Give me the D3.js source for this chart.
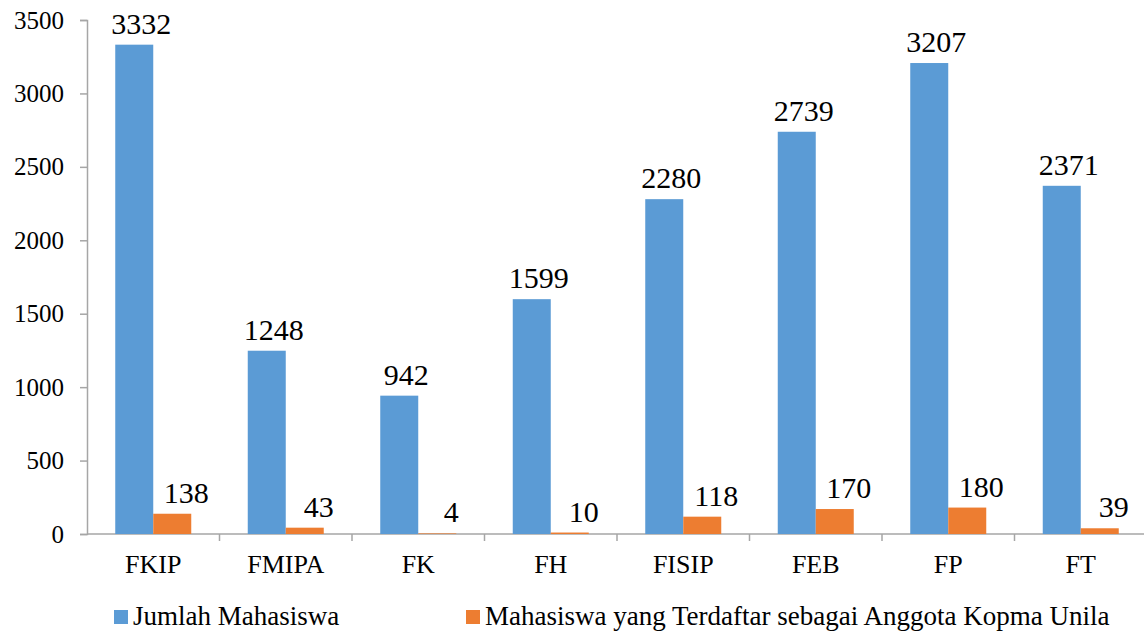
<!DOCTYPE html>
<html>
<head>
<meta charset="utf-8">
<script src="https://cdn.jsdelivr.net/npm/d3@7"></script>
<style>
  body { margin: 0; background: #fff; }
  text { font-family: "Liberation Serif", "Times New Roman", serif; }
</style>
</head>
<body>
<div class="chart"></div>
<script>
var svgWidth = 1144;
var svgHeight = 632;

// data
var faculties = ["FKIP", "FMIPA", "FK", "FH", "FISIP", "FEB", "FP", "FT"];
var jumlahMahasiswa = [3332, 1248, 942, 1599, 2280, 2739, 3207, 2371];
var anggotaKopma = [138, 43, 4, 10, 118, 170, 180, 39];
var seriesNames = ["Jumlah Mahasiswa", "Mahasiswa yang Terdaftar sebagai Anggota Kopma Unila"];
var yTicks = [0, 500, 1000, 1500, 2000, 2500, 3000, 3500];

var colors = ["#5b9bd5", "#ed7d31"];
var serif = "Liberation Serif";

var margin = { top: 20, left: 87 };
var height = 534 - margin.top;
var width = 8 * 132.5;

var svg = d3.select(".chart")
  .append("svg")
  .attr("width", svgWidth)
  .attr("height", svgHeight)
  .style("display", "block");

var chartGroup = svg.append("g")
  .attr("transform", `translate(${margin.left}, ${margin.top})`);

var xScale = d3.scaleBand()
  .domain(faculties)
  .range([0, width]);

var barW = 38;
var xSub = d3.scaleOrdinal()
  .domain([0, 1])
  .range([-barW, 0]);

var yScale = d3.scaleLinear()
  .domain([0, 3500])
  .range([height, 0]);

// y axis
var leftAxis = d3.axisLeft(yScale)
  .tickValues(yTicks)
  .tickFormat(d3.format("d"))
  .tickSize(7)
  .tickPadding(16);
var yAxisG = chartGroup.append("g").call(leftAxis)
  .attr("font-family", serif);
yAxisG.selectAll("text")
  .attr("font-family", serif)
  .attr("font-size", 25)
  .attr("fill", "#000");
yAxisG.select(".domain").attr("stroke", "#a6a6a6").attr("stroke-width", 1.5);
yAxisG.selectAll(".tick line").attr("stroke", "#a6a6a6").attr("stroke-width", 1.5);

// x axis with ticks at category boundaries
var xAxisG = chartGroup.append("g")
  .attr("transform", `translate(0, ${height})`);
xAxisG.append("line")
  .attr("x1", 0).attr("x2", width)
  .attr("stroke", "#a6a6a6").attr("stroke-width", 1.5);
xAxisG.selectAll(".xt")
  .data(faculties.slice(1))
  .enter()
  .append("line")
  .attr("x1", d => xScale(d)).attr("x2", d => xScale(d))
  .attr("y1", 0).attr("y2", 7)
  .attr("stroke", "#a6a6a6").attr("stroke-width", 1.5);
xAxisG.selectAll(".xl")
  .data(faculties)
  .enter()
  .append("text")
  .attr("x", d => xScale(d) + xScale.bandwidth() / 2)
  .attr("y", 39)
  .attr("text-anchor", "middle")
  .attr("font-family", serif)
  .attr("font-size", 26)
  .text(d => d);

// bars
[jumlahMahasiswa, anggotaKopma].forEach(function(values, s) {
  var rows = faculties.map((f, i) => ({ cat: f, value: values[i] }));
  var g = chartGroup.append("g");
  g.selectAll("rect")
    .data(rows)
    .enter()
    .append("rect")
    .attr("x", d => xScale(d.cat) + xScale.bandwidth() / 2 + xSub(s))
    .attr("y", d => yScale(d.value))
    .attr("width", barW)
    .attr("height", d => height - yScale(d.value))
    .attr("fill", colors[s]);

  g.selectAll("text")
    .data(rows)
    .enter()
    .append("text")
    .attr("x", d => xScale(d.cat) + xScale.bandwidth() / 2 + xSub(s) + barW / 2 + (s === 0 ? 7 : 14))
    .attr("y", d => yScale(d.value) - 11)
    .attr("text-anchor", "middle")
    .attr("font-family", serif)
    .attr("font-size", 30)
    .text(d => d.value);
});

// legend
var legendX = [114, 466];
var legend = svg.append("g");
seriesNames.forEach(function(name, s) {
  legend.append("rect")
    .attr("x", legendX[s]).attr("y", 610)
    .attr("width", 14).attr("height", 14)
    .attr("fill", colors[s]);
  legend.append("text")
    .attr("x", legendX[s] + 19)
    .attr("y", 625)
    .attr("font-family", serif)
    .attr("font-size", 27)
    .text(name);
});
</script>
</body>
</html>
